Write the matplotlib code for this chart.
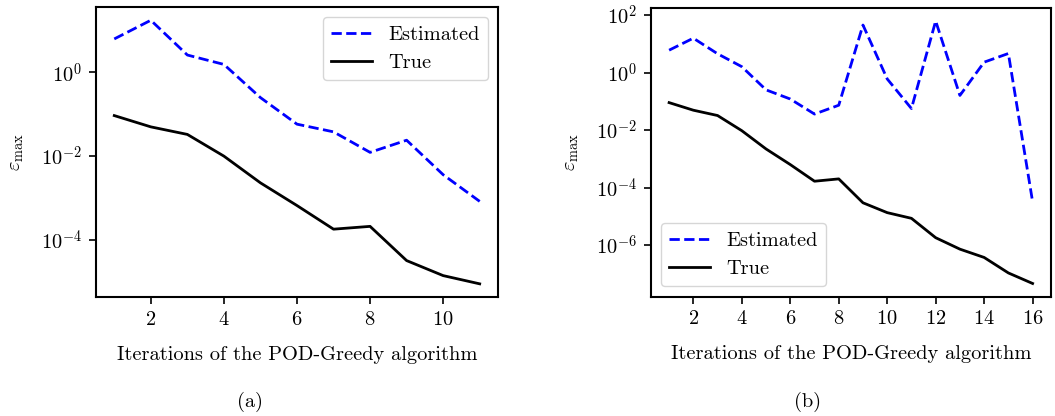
import numpy as np
import matplotlib
matplotlib.use("Agg")
import matplotlib.pyplot as plt
from matplotlib.ticker import LogLocator

plt.rcParams['font.family'] = 'serif'
plt.rcParams['font.serif'] = ['cmr10']
plt.rcParams['mathtext.fontset'] = 'cm'
plt.rcParams['axes.formatter.use_mathtext'] = True
plt.rcParams['axes.unicode_minus'] = False
plt.rcParams['font.size'] = 14.7

# (a) 11 iterations
iters_a = np.arange(1, 12)
est_a = [6.3, 17.6, 2.6, 1.55, 0.25, 0.058, 0.038, 0.0123, 0.024, 0.0036, 0.00083]
true_a = [0.093, 0.05, 0.033, 0.01, 0.0023, 0.00066, 0.00018, 0.00021, 3.2e-5, 1.4e-5, 8.9e-6]

# (b) 16 iterations
iters_b = np.arange(1, 17)
est_b = [6.0, 15.7, 4.5, 1.6, 0.25, 0.12, 0.036, 0.073, 45, 0.6, 0.056, 62, 0.16, 2.3, 4.6, 3.2e-5]
true_b = [0.09, 0.049, 0.032, 0.0095, 0.0022, 0.00063, 0.000166, 0.0002, 2.95e-5, 1.34e-5,
          8.5e-6, 1.8e-6, 7.2e-7, 3.7e-7, 1.07e-7, 4.6e-8]

xlabel = 'Iterations of the POD-Greedy algorithm'

fig = plt.figure(figsize=(10.55, 4.16), dpi=100)
ax1 = fig.add_axes([0.091, 0.286, 0.381, 0.697])
ax2 = fig.add_axes([0.617, 0.287, 0.379, 0.694])

for ax, it, est, tru, loc in [(ax1, iters_a, est_a, true_a, 'upper right'),
                              (ax2, iters_b, est_b, true_b, 'lower left')]:
    ax.semilogy(it, est, '--', color='blue', lw=2, label='Estimated')
    ax.semilogy(it, tru, '-', color='black', lw=2, label='True')
    ax.set_xlabel(xlabel, labelpad=12)
    ax.set_ylabel(r'$\varepsilon_{\max}$', labelpad=11)
    ax.set_xticks(np.arange(2, it[-1] + 1, 2))
    ax.yaxis.set_major_locator(LogLocator(base=100))
    ax.minorticks_off()
    for s in ax.spines.values():
        s.set_linewidth(1.5)
    ax.tick_params(width=1.2, length=5, pad=5)
    ax.legend(loc=loc, fancybox=True, framealpha=0.8)

fig.text(0.237, 0.035, '(a)', ha='center', va='center')
fig.text(0.765, 0.035, '(b)', ha='center', va='center')

fig.savefig('out.png', dpi=100)
